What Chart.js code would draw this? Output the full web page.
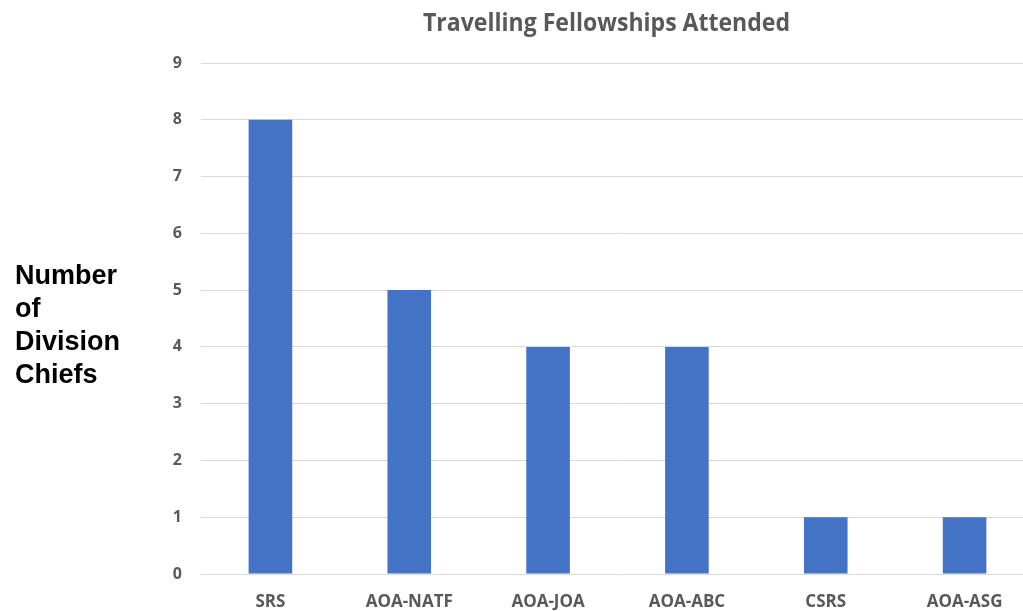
<!DOCTYPE html>
<html>
<head>
<meta charset="utf-8">
<script src="https://cdn.jsdelivr.net/npm/chart.js@4/dist/chart.umd.min.js"></script>
<style>
  html, body { margin: 0; padding: 0; background: #fff; overflow: hidden; width: 1023px; height: 611px; }
  #wrap { position: relative; width: 1034px; height: 620px; }
</style>
</head>
<body>
<div id="wrap"><canvas id="chart"></canvas></div>
<script>
// data
var categories = ['SRS', 'AOA-NATF', 'AOA-JOA', 'AOA-ABC', 'CSRS', 'AOA-ASG'];
var chiefs = [8, 5, 4, 4, 1, 1];
var titleText = 'Travelling Fellowships Attended';
var yLabelLines = ['Number', 'of', 'Division', 'Chiefs'];

// title + left label drawn as text on the canvas
var textPlugin = {
    id: 'textPlugin',
    afterDraw: function(chart) {
        var c = chart.ctx;
        c.save();
        c.fillStyle = '#595959';
        c.font = 'bold 25px "Open Sans"';
        c.textAlign = 'center';
        c.textBaseline = 'alphabetic';
        c.fillText(titleText, 606.5, 31, 367);

        c.fillStyle = '#000';
        c.font = 'bold 27px "Liberation Sans"';
        c.textAlign = 'left';
        for (var i = 0; i < yLabelLines.length; i++) {
            c.fillText(yLabelLines[i], 15, 284 + i * 33);
        }
        c.restore();
    }
};

var ctx = document.getElementById('chart').getContext('2d');
var chart = new Chart(ctx, {
    type: 'bar',
    data: {
        labels: categories,
        datasets: [{
            label: 'Number of Division Chiefs',
            data: chiefs,
            backgroundColor: '#4472C4',
            borderWidth: 0,
            barPercentage: 0.314,
            categoryPercentage: 1
        }]
    },
    options: {
        responsive: true,
        maintainAspectRatio: false,
        animation: false,
        layout: { padding: { top: 63, left: 0, right: 0, bottom: 0 } },
        plugins: {
            legend: { display: false },
            tooltip: { enabled: false }
        },
        scales: {
            x: {
                grid: { display: false },
                border: { display: false },
                ticks: {
                    color: '#595959',
                    font: { family: 'Open Sans', weight: 'bold', size: 17 },
                    padding: 10,
                    maxRotation: 0
                },
                afterFit: function(s) { s.height = 46; }
            },
            y: {
                min: 0,
                max: 9,
                grid: { color: '#d9d9d9', lineWidth: 1, drawTicks: false },
                border: { display: false },
                ticks: {
                    stepSize: 1,
                    color: '#595959',
                    font: { family: 'Open Sans', weight: 'bold', size: 16 },
                    padding: 19
                },
                afterFit: function(s) { s.width = 201; }
            }
        }
    },
    plugins: [textPlugin]
});
</script>
</body>
</html>
